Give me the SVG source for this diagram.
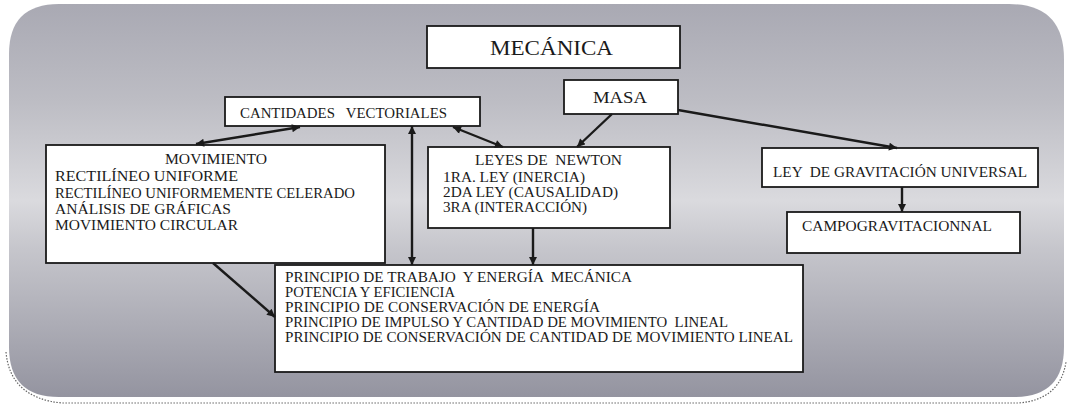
<svg xmlns="http://www.w3.org/2000/svg" width="1068" height="409" viewBox="0 0 1068 409">
<defs>
<linearGradient id="bg" x1="0" y1="0" x2="0" y2="1">
<stop offset="0" stop-color="#a9a9b3"/>
<stop offset="0.25" stop-color="#bdbdc4"/>
<stop offset="0.5" stop-color="#dadade"/>
<stop offset="0.62" stop-color="#c6c6cc"/>
<stop offset="1" stop-color="#9494a0"/>
</linearGradient>
<marker id="ah" viewBox="0 0 10 10" refX="10" refY="5" markerWidth="9" markerHeight="8" markerUnits="userSpaceOnUse" orient="auto-start-reverse">
<path d="M0,0 L10,5 L0,10 z" fill="#1a1a1a"/>
</marker>
<style>
.box{fill:#fff;stroke:#1a1a1a;stroke-width:1.8}
.t{font-family:"Liberation Serif","Times New Roman",serif;font-size:15.5px;fill:#1a1a1a}
.p{font-size:14px}
.c{stroke:#1a1a1a;stroke-width:2.4;fill:none}
</style>
</defs>
<path d="M59,4 L1009,4 Q1064,4 1064,59 L1064,347 Q1064,397 1014,397 L59,397 Q9,397 9,347 L9,54 Q9,4 59,4 Z" fill="url(#bg)"/>
<path d="M6,352 Q10,398 62,403 L1018,403 Q1060,400 1066,362" fill="none" stroke="#666" stroke-width="1.2" stroke-dasharray="1.5 1.5"/>

<g id="mecanica"><rect class="box" x="427" y="26" width="253" height="42"/><text class="t" x="490" y="55" style="font-size:22px" textLength="123" lengthAdjust="spacingAndGlyphs">MECÁNICA</text></g>
<g id="masa"><rect class="box" x="564" y="80" width="114" height="34"/><text class="t" x="593" y="103" textLength="54" lengthAdjust="spacingAndGlyphs" style="font-size:16px">MASA</text></g>
<g id="cantidades"><rect class="box" x="225" y="97" width="255" height="29"/><text class="t" x="240" y="118" textLength="207" lengthAdjust="spacingAndGlyphs" xml:space="preserve">CANTIDADES   VECTORIALES</text></g>
<g id="movimiento"><rect class="box" x="46" y="145" width="339" height="118"/>
<text class="t" x="165" y="164" textLength="102" lengthAdjust="spacingAndGlyphs">MOVIMIENTO</text>
<text class="t" x="55" y="181" textLength="183" lengthAdjust="spacingAndGlyphs">RECTILÍNEO UNIFORME</text>
<text class="t" x="55" y="198" textLength="300" lengthAdjust="spacingAndGlyphs">RECTILÍNEO UNIFORMEMENTE CELERADO</text>
<text class="t" x="55" y="214" textLength="176" lengthAdjust="spacingAndGlyphs">ANÁLISIS DE GRÁFICAS</text>
<text class="t" x="55" y="230" textLength="183" lengthAdjust="spacingAndGlyphs">MOVIMIENTO CIRCULAR</text></g>
<g id="leyes"><rect class="box" x="428" y="147" width="242" height="81"/>
<text class="t" x="475" y="165" textLength="147" lengthAdjust="spacingAndGlyphs" xml:space="preserve">LEYES DE  NEWTON</text>
<text class="t" x="443" y="182" textLength="142" lengthAdjust="spacingAndGlyphs">1RA. LEY (INERCIA)</text>
<text class="t" x="443" y="197" textLength="175" lengthAdjust="spacingAndGlyphs">2DA LEY (CAUSALIDAD)</text>
<text class="t" x="443" y="212" textLength="144" lengthAdjust="spacingAndGlyphs">3RA (INTERACCIÓN)</text></g>
<g id="gravitacion"><rect class="box" x="762" y="148" width="276" height="39"/><text class="t" x="773" y="177" textLength="254" lengthAdjust="spacingAndGlyphs" xml:space="preserve">LEY  DE GRAVITACIÓN UNIVERSAL</text></g>
<g id="campo"><rect class="box" x="787" y="212" width="233" height="41"/><text class="t" x="802" y="231" textLength="190" lengthAdjust="spacingAndGlyphs">CAMPOGRAVITACIONNAL</text></g>
<g id="principio"><rect class="box" x="275" y="265" width="528" height="107"/>
<text class="t p" x="285" y="282" textLength="347" lengthAdjust="spacingAndGlyphs" xml:space="preserve">PRINCIPIO DE TRABAJO  Y ENERGÍA  MECÁNICA</text>
<text class="t p" x="285" y="297" textLength="170" lengthAdjust="spacingAndGlyphs">POTENCIA Y EFICIENCIA</text>
<text class="t p" x="285" y="312" textLength="315" lengthAdjust="spacingAndGlyphs">PRINCIPIO DE CONSERVACIÓN DE ENERGÍA</text>
<text class="t p" x="285" y="327" textLength="443" lengthAdjust="spacingAndGlyphs" xml:space="preserve">PRINCIPIO DE IMPULSO Y CANTIDAD DE MOVIMIENTO  LINEAL</text>
<text class="t p" x="285" y="342" textLength="508" lengthAdjust="spacingAndGlyphs">PRINCIPIO DE CONSERVACIÓN DE CANTIDAD DE MOVIMIENTO LINEAL</text></g>

<g id="connectors">
<line class="c" x1="300" y1="127" x2="196" y2="144" marker-start="url(#ah)" marker-end="url(#ah)"/>
<line class="c" x1="412" y1="126" x2="412" y2="265" marker-start="url(#ah)" marker-end="url(#ah)"/>
<line class="c" x1="453" y1="127" x2="503" y2="147" marker-start="url(#ah)" marker-end="url(#ah)"/>
<line class="c" x1="612" y1="114" x2="577" y2="147" marker-end="url(#ah)"/>
<line class="c" x1="678" y1="110" x2="897" y2="148" marker-end="url(#ah)"/>
<line class="c" x1="533" y1="228" x2="533" y2="265" marker-end="url(#ah)"/>
<line class="c" x1="902" y1="187" x2="902" y2="212" marker-end="url(#ah)"/>
<line class="c" x1="213" y1="263" x2="275" y2="317" marker-end="url(#ah)"/>
</g>
</svg>
